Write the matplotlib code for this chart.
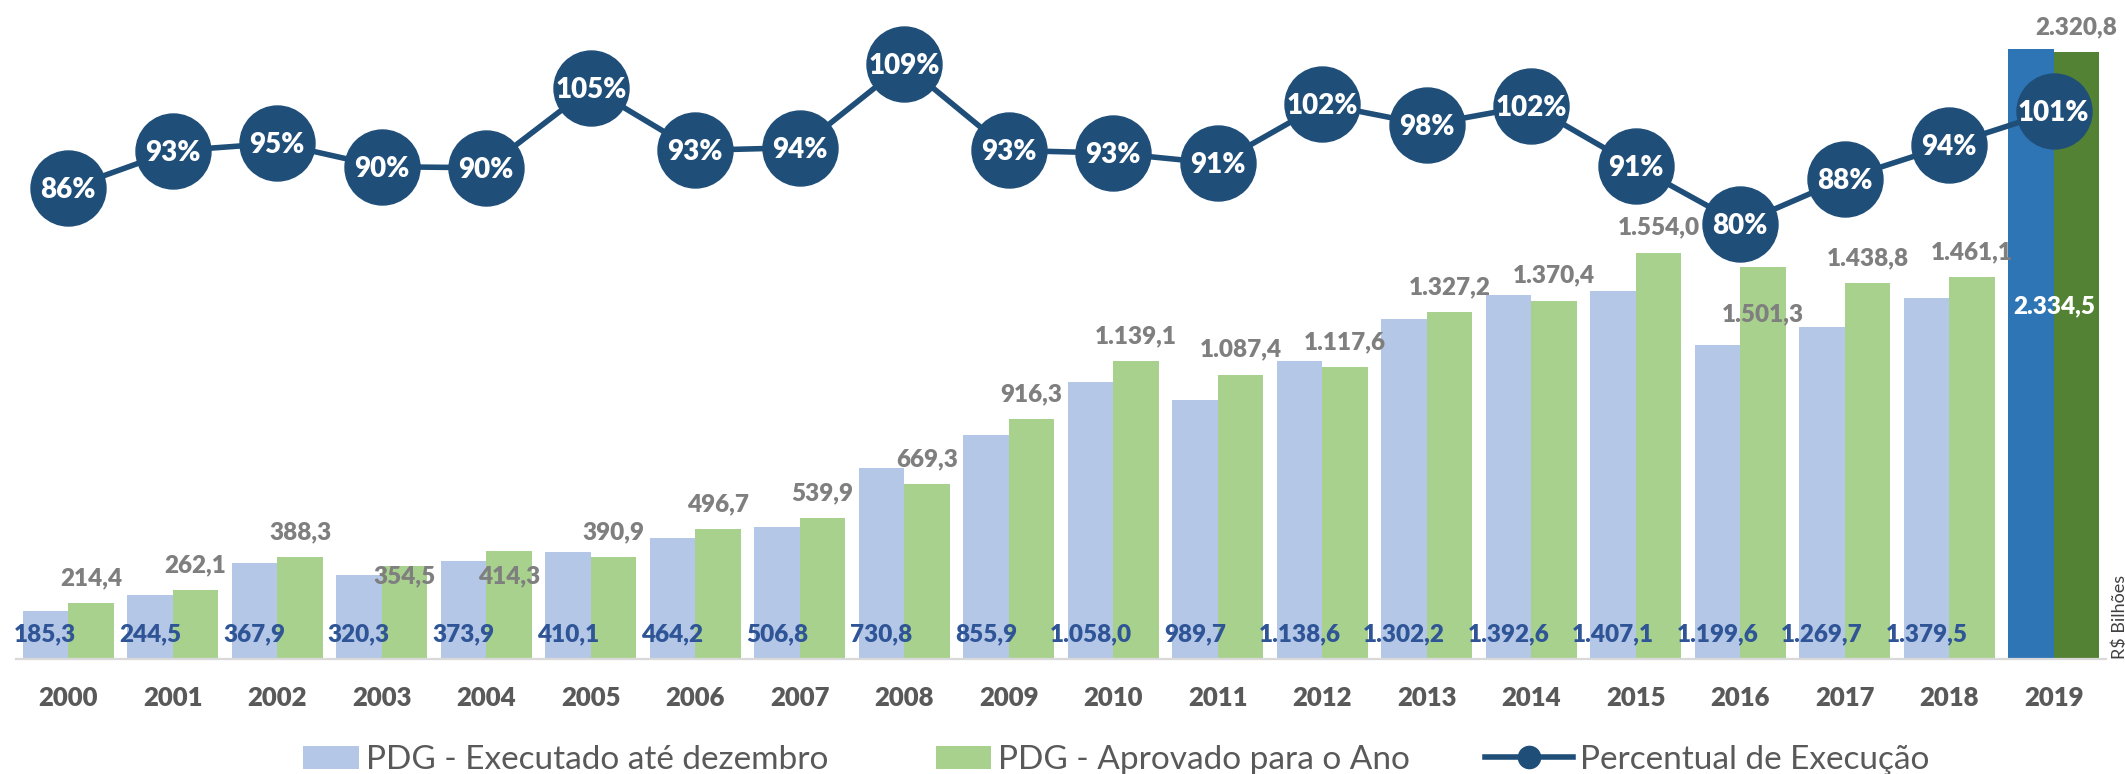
import matplotlib
matplotlib.use("Agg")
import matplotlib.pyplot as plt
from matplotlib.patches import Rectangle, Patch
from matplotlib.lines import Line2D
from matplotlib.legend_handler import HandlerPatch
import numpy as np

# ---------------- data ----------------
years = ["2000", "2001", "2002", "2003", "2004", "2005", "2006", "2007", "2008", "2009",
         "2010", "2011", "2012", "2013", "2014", "2015", "2016", "2017", "2018", "2019"]
executado = [185.3, 244.5, 367.9, 320.3, 373.9, 410.1, 464.2, 506.8, 730.8, 855.9,
             1058.0, 989.7, 1138.6, 1302.2, 1392.6, 1407.1, 1199.6, 1269.7, 1379.5, 2334.5]
aprovado = [214.4, 262.1, 388.3, 354.5, 414.3, 390.9, 496.7, 539.9, 669.3, 916.3,
            1139.1, 1087.4, 1117.6, 1327.2, 1370.4, 1554.0, 1501.3, 1438.8, 1461.1, 2320.8]
percentual = [86.4, 93.3, 94.7, 90.4, 90.2, 104.9, 93.4, 93.9, 109.2, 93.4,
              92.9, 91.0, 101.9, 98.1, 101.6, 90.5, 79.9, 88.2, 94.4, 100.6]
series_names = ["PDG - Executado até dezembro", "PDG - Aprovado para o Ano", "Percentual de Execução"]
unit_label = "R$ Bilhões"

# ---------------- style ----------------
plt.rcParams["font.family"] = ["Lato", "DejaVu Sans"]
C_EXEC = "#B4C7E7"
C_APR = "#A9D18E"
C_EXEC_HL = "#2E75B6"
C_APR_HL = "#548235"
C_LINE = "#1F4E79"
C_EXEC_TXT = "#2F5597"
C_APR_TXT = "#7F7F7F"
C_AXTXT = "#595959"
LBL_W = 800

W, H = 2125, 774
PX = 0.72  # points per pixel at dpi 100

def fmt_br(v):
    s = f"{v:,.1f}"
    return s.replace(",", "X").replace(".", ",").replace("X", ".")

fig = plt.figure(figsize=(W / 100, H / 100), dpi=100)
base_y = 659
top_y = 5.5
ax = fig.add_axes([16 / W, 1 - base_y / H, (2106 - 16) / W, (base_y - top_y) / H])
ax.set_xlim(-0.5, len(years) - 0.5)
ax.set_ylim(0, 2500)

x = np.arange(len(years))
bw = 0.437
hl = len(years) - 1
exec_colors = [C_EXEC_HL if i == hl else C_EXEC for i in range(len(years))]
apr_colors = [C_APR_HL if i == hl else C_APR for i in range(len(years))]
ax.bar(x - bw / 2, executado, width=bw, color=exec_colors, zorder=2)
ax.bar(x + bw / 2, aprovado, width=bw, color=apr_colors, zorder=2)

for s in ["top", "left", "right"]:
    ax.spines[s].set_visible(False)
ax.spines["bottom"].set_color("#D9D9D9")
ax.spines["bottom"].set_linewidth(1.6)
ax.set_yticks([])
ax.set_xticks(x, years)
ax.tick_params(axis="x", length=0, pad=(706 - base_y) * PX, labelsize=18.5, labelcolor=C_AXTXT)
for lbl in ax.get_xticklabels():
    lbl.set_fontweight(LBL_W)
    lbl.set_va("baseline")

# executed labels (baseline 18 px above axis)
for i, v in enumerate(executado):
    if i == hl:
        ax.annotate(fmt_br(v), xy=(x[i], 0), xytext=(0, (base_y - 304 - 9) * PX),
                    textcoords="offset points", ha="center", va="baseline",
                    fontsize=17.5, fontweight=LBL_W, color="white", zorder=5)
    else:
        ax.annotate(fmt_br(v), xy=(x[i] - bw / 2, 0), xytext=(0, 18 * PX),
                    textcoords="offset points", ha="center", va="baseline",
                    fontsize=17.5, fontweight=LBL_W, color=C_EXEC_TXT, zorder=5)

# approved labels (label center offset from bar top, in pixels)
label_shift = {"2003": -8, "2004": -24, "2016": -46}
for i, v in enumerate(aprovado):
    dy = label_shift.get(years[i], 27)
    ax.annotate(fmt_br(v), xy=(x[i] + bw / 2, v), xytext=(0, (dy - 9) * PX),
                textcoords="offset points", ha="center", va="baseline",
                fontsize=17.5, fontweight=LBL_W, color=C_APR_TXT, zorder=5)

# percent line
ax2 = ax.twinx()
ax2.set_ylim(0, 120)
ax2.set_yticks([])
for s in ["top", "left", "right", "bottom"]:
    ax2.spines[s].set_visible(False)
ax2.plot(x, percentual, color=C_LINE, lw=4.0, marker="o", markersize=54,
         markerfacecolor=C_LINE, markeredgecolor=C_LINE, zorder=3)
for i, p in enumerate(percentual):
    ax2.annotate(f"{int(p + 0.5)}%", xy=(x[i], p), xytext=(0, -7.2),
                 textcoords="offset points", ha="center", va="baseline",
                 fontsize=20, fontweight=LBL_W, color="white", zorder=6)

# unit label
fig.text(2120 / W, 1 - base_y / H, unit_label, rotation=90, ha="center", va="bottom",
         fontsize=13, color="#404040")

# legend
class NarrowPatch(HandlerPatch):
    def create_artists(self, legend, orig_handle, xdescent, ydescent, width, height, fontsize, trans):
        w = width * 0.63
        r = Rectangle((-xdescent + width - w, -ydescent), w, height,
                      facecolor=orig_handle.get_facecolor(), edgecolor="none", transform=trans)
        return [r]

handles = [Patch(facecolor=C_EXEC), Patch(facecolor=C_APR),
           Line2D([], [], color=C_LINE, lw=4, marker="o", markersize=16)]
fig.legend(handles, series_names, loc="center", bbox_to_anchor=(1100 / W, 1 - 760 / H),
           ncol=3, frameon=False, fontsize=24, labelcolor=C_AXTXT, handlelength=2.65,
           handletextpad=0.2, columnspacing=2.25, borderaxespad=0,
           handler_map={Patch: NarrowPatch()})

fig.savefig("out.png", dpi=100)
